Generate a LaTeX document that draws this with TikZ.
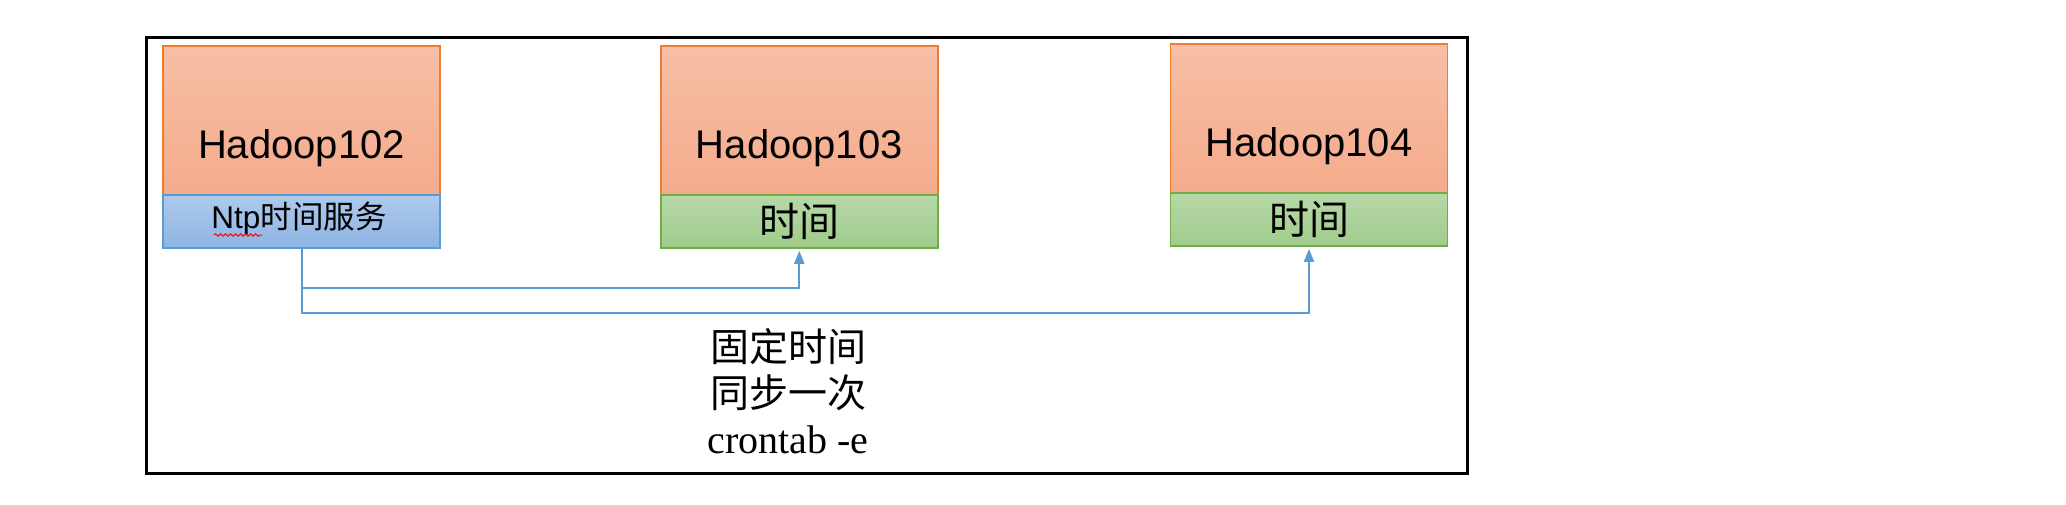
\documentclass[tikz,border=0pt]{standalone}
\usepackage{fontspec}
\setmainfont{Liberation Sans}
\newfontfamily\cjk{Noto Sans CJK SC}
\newfontfamily\serifen{Liberation Serif}
\usetikzlibrary{arrows.meta,decorations.pathmorphing}
\definecolor{orgTop}{HTML}{F7BFA6}
\definecolor{orgBot}{HTML}{F4AB8C}
\definecolor{orgLine}{HTML}{ED7D31}
\definecolor{bluTop}{HTML}{ADCAEB}
\definecolor{bluBot}{HTML}{8EB4E3}
\definecolor{bluLine}{HTML}{5B9BD5}
\definecolor{grnTop}{HTML}{B7D8A9}
\definecolor{grnBot}{HTML}{A0CC8A}
\definecolor{grnLine}{HTML}{70AD47}
\definecolor{connCol}{HTML}{5B9BD5}
\begin{document}
\begin{tikzpicture}[x=1pt,y=-1pt,
  hostbox/.style={rectangle,draw=orgLine,line width=1.5pt,top color=orgTop,bottom color=orgBot,
    minimum width=277pt,inner sep=0pt,outer sep=0pt},
  ntpbox/.style={rectangle,draw=bluLine,line width=1.5pt,top color=bluTop,bottom color=bluBot,
    minimum width=277pt,minimum height=52.7pt,inner sep=0pt,outer sep=0pt},
  timebox/.style={rectangle,draw=grnLine,line width=1.5pt,top color=grnTop,bottom color=grnBot,
    minimum width=277pt,minimum height=52.7pt,inner sep=0pt,outer sep=0pt},
  hostlabel/.style={font=\fontsize{40}{48}\selectfont,inner sep=0pt},
  conn/.style={draw=connCol,line width=2pt},
  tip/.style={-{Triangle[length=13pt,width=10pt]},shorten >=3pt},
  note/.style={font=\fontsize{39}{46}\selectfont\cjk,inner sep=0pt},
]
\useasboundingbox (0,0) rectangle (2066,504);
\fill[white] (0,0) rectangle (2066,504);
% frame
\draw[line width=3pt,black] (146,37) rectangle (1467,473);

% Hadoop102
\node[hostbox,minimum height=149.3pt] (h102) at (301.5,120.4) {};
\node[hostlabel] (h102t) at (301.5,148) {Hadoop102};
\node[ntpbox] (ntp) at (301.5,221.4) {};
\node[font=\fontsize{31.5}{36}\selectfont,inner sep=0pt] (ntpt) at (299,219) {Ntp{\cjk 时间服务}};
\draw[red,line width=1pt,decorate,decoration={snake,amplitude=1.2pt,segment length=5pt}]
  (214,235) -- (262,235);

% Hadoop103
\node[hostbox,minimum height=149.3pt] (h103) at (799.3,120.4) {};
\node[hostlabel] (h103t) at (799.3,148) {Hadoop103};
\node[timebox] (t103) at (799.3,221.4) {};
\node[hostlabel,font=\fontsize{40}{48}\selectfont\cjk] (t103t) at (799.3,221) {时间};

% Hadoop104
\node[hostbox,minimum height=149.3pt] (h104) at (1309,118.4) {};
\node[hostlabel] (h104t) at (1309,146) {Hadoop104};
\node[timebox] (t104) at (1309,219.5) {};
\node[hostlabel,font=\fontsize{40}{48}\selectfont\cjk] (t104t) at (1309,219) {时间};

% connectors
\coordinate (j1) at (799.3,287.7);
\coordinate (j2) at (1309,312.7);
\draw[conn,tip] (ntp.south) |- (j1) -- (t103.south);
\draw[conn,tip] (ntp.south) |- (j2) -- (t104.south);

% note
\node[note] (l1) at (788,347) {固定时间};
\node[note] (l2) at (788,393) {同步一次};
\node[inner sep=0pt,font=\fontsize{40}{46}\selectfont\serifen] (l3) at (788,440) {crontab -e};
\end{tikzpicture}
\end{document}
